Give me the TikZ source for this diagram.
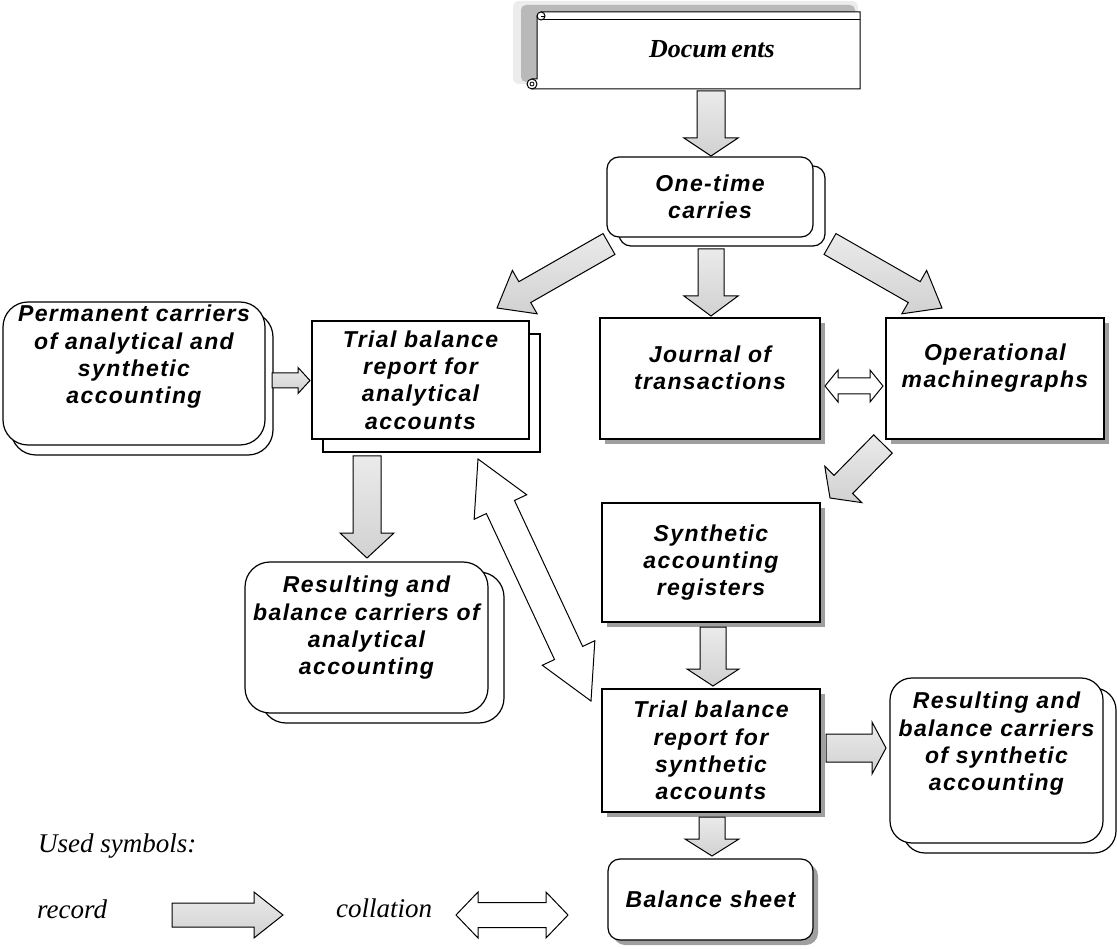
\documentclass[tikz,border=0pt]{standalone}
\usepackage{fontspec}
\usetikzlibrary{calc,shadows}
\newfontfamily\boxfont{Liberation Sans}[LetterSpace=6]
\newfontfamily\legfont{Liberation Serif}

\tikzset{
  boxtext/.style={font=\boxfont\bfseries\itshape\fontsize{23}{27.3}\selectfont, align=center, inner sep=0pt},
  outline/.style={draw=black, line width=1.2pt, fill=white},
  sqbox/.style={outline, inner sep=0pt, boxtext},
  rbox/.style={outline, rounded corners=#1, inner sep=0pt, boxtext},
  cshadow/.style 2 args={copy shadow={shadow xshift=#1, shadow yshift=#2, fill=white, draw=black, line width=1.2pt}},
  dshadow/.style={drop shadow={shadow xshift=5pt, shadow yshift=-5pt, fill=gray!75, opacity=1}},
  recfill/.style={draw=black, line width=1pt, line join=miter, top color=gray!16, bottom color=gray!36},
  colfill/.style={draw=black, line width=1pt, line join=miter, fill=white},
  legtext/.style={font=\legfont\itshape\fontsize{27}{31}\selectfont, inner sep=0pt, anchor=base west},
}

% block arrow: style, tail, tip, shaft half-width, head half-width, head length
\newcommand\blockarrow[6]{%
  \coordinate (hb) at ($(#3)!#6!(#2)$);
  \draw[#1] ($(#2)!#4!90:(#3)$) -- ($(hb)!#4!90:(#3)$) -- ($(hb)!#5!90:(#3)$) -- (#3)
    -- ($(hb)!#5!-90:(#3)$) -- ($(hb)!#4!-90:(#3)$) -- ($(#2)!#4!-90:(#3)$) -- cycle;
}
% two-headed block arrow, same arguments
\newcommand\twoarrow[6]{%
  \coordinate (ha) at ($(#2)!#6!(#3)$);
  \coordinate (hb) at ($(#3)!#6!(#2)$);
  \draw[#1] (#2) -- ($(ha)!#5!90:(#3)$) -- ($(ha)!#4!90:(#3)$) -- ($(hb)!#4!90:(#3)$)
    -- ($(hb)!#5!90:(#3)$) -- (#3) -- ($(hb)!#5!-90:(#3)$) -- ($(hb)!#4!-90:(#3)$)
    -- ($(ha)!#4!-90:(#3)$) -- ($(ha)!#5!-90:(#3)$) -- cycle;
}

\begin{document}
\begin{tikzpicture}[x=1pt, y=-1pt]
\useasboundingbox (0,0) rectangle (1117,949);

% ---- scroll with the source documents ----
\fill[gray!15, rounded corners=6] (513,1) rectangle (858,84);
\fill[gray!55, rounded corners=5] (521,5) rectangle (855,82);
\draw[outline, line width=1pt] (541,12) -- (860,12) -- (860,89) -- (532,89) -- (532,79) -- (537,79) -- (537,16) -- cycle;
\draw[line width=1pt] (541,20) -- (860,20);
\draw[outline, line width=1pt] (541,16) circle (4);
\draw[line width=0.8pt] (541,16) -- (545,16);
\draw[outline, line width=1pt] (532,84) circle (5);
\draw[line width=0.8pt] (532,84) circle (2);
\node[font=\legfont\bfseries\itshape\fontsize{26}{30}\selectfont, inner sep=0pt] (docs) at (712,49) {Docum\,ents};

% ---- boxes ----
\node[rbox=12, minimum width=206, minimum height=80, cshadow={12pt}{-9pt}] (onetime) at (710,197) {One-time\\carries};

\node[rbox=25, minimum width=262, minimum height=143, cshadow={8pt}{-10pt}] (perm) at (134,373.5) {};
\node[boxtext, anchor=north] (permtext) at (134,305) {Permanent carriers\\of analytical and\\synthetic\\accounting};

\node[sqbox, minimum width=217, minimum height=118, cshadow={11pt}{-13pt}] (trialan) at (420.5,380) {Trial balance\\report for\\analytical\\accounts};

\node[sqbox, minimum width=220, minimum height=121, dshadow] (journal) at (710,378.5) {};
\node[boxtext] (journaltext) at (710,368) {Journal of\\transactions};

\node[sqbox, minimum width=218, minimum height=121, dshadow] (oper) at (995,378.5) {};
\node[boxtext] (opertext) at (995,368) {Operational\\machinegraphs};

\node[sqbox, minimum width=218, minimum height=119, dshadow] (synreg) at (711,562.5) {Synthetic\\accounting\\registers};

\node[sqbox, minimum width=218, minimum height=123, dshadow] (trialsyn) at (711,750.5) {Trial balance\\report for\\synthetic\\accounts};

\node[rbox=25, minimum width=243, minimum height=151, cshadow={16pt}{-10pt}] (resan) at (366.5,637.5) {};
\node[boxtext, anchor=north] (resantext) at (366.5,576) {Resulting and\\balance carriers of\\analytical\\accounting};

\node[rbox=22, minimum width=213, minimum height=165, cshadow={13pt}{-10pt}] (ressyn) at (996.5,760.5) {};
\node[boxtext, anchor=north] (ressyntext) at (996.5,692) {Resulting and\\balance carriers\\of synthetic\\accounting};

\node[rbox=12, minimum width=205, minimum height=81, dshadow] (balance) at (710.5,899.5) {Balance sheet};

% ---- record arrows ----
\coordinate (docs-out) at (711,91);   \coordinate (onetime-in) at (711,156);
\blockarrow{recfill}{docs-out}{onetime-in}{14pt}{27pt}{18pt}

\coordinate (onetime-l) at (609,244); \coordinate (trialan-in) at (497,308);
\blockarrow{recfill}{onetime-l}{trialan-in}{12pt}{25pt}{32pt}

\coordinate (onetime-r) at (830,244); \coordinate (oper-in) at (942,308);
\blockarrow{recfill}{onetime-r}{oper-in}{12pt}{25pt}{32pt}

\coordinate (onetime-b) at (711,249); \coordinate (journal-in) at (711,316);
\blockarrow{recfill}{onetime-b}{journal-in}{13pt}{27pt}{20pt}

\coordinate (perm-out) at (272,380.5); \coordinate (trialan-l) at (310,380.5);
\blockarrow{recfill}{perm-out}{trialan-l}{7.5pt}{13pt}{12pt}

\coordinate (trialan-b) at (367,456); \coordinate (resan-in) at (367,558);
\blockarrow{recfill}{trialan-b}{resan-in}{14pt}{27pt}{25pt}

\coordinate (oper-out) at (883,444); \coordinate (synreg-in) at (830,498);
\blockarrow{recfill}{oper-out}{synreg-in}{13pt}{26pt}{19pt}

\coordinate (synreg-out) at (713,627); \coordinate (trialsyn-in) at (713,686);
\blockarrow{recfill}{synreg-out}{trialsyn-in}{13pt}{26pt}{17pt}

\coordinate (trialsyn-r) at (826,748); \coordinate (ressyn-in) at (886,748);
\blockarrow{recfill}{trialsyn-r}{ressyn-in}{14pt}{26pt}{14pt}

\coordinate (trialsyn-b) at (712,817); \coordinate (balance-in) at (712,856);
\blockarrow{recfill}{trialsyn-b}{balance-in}{13pt}{27pt}{17pt}

% ---- collation arrows ----
\coordinate (journal-r) at (825,386); \coordinate (oper-l) at (883,386);
\twoarrow{colfill}{journal-r}{oper-l}{8pt}{16pt}{13pt}

\coordinate (trialan-c) at (478,459); \coordinate (trialsyn-c) at (591,701);
\twoarrow{colfill}{trialan-c}{trialsyn-c}{15.5pt}{29pt}{53pt}

% ---- legend ----
\node[legtext] (legtitle) at (38,852) {Used symbols:};
\node[legtext] (legrec) at (37,918) {record};
\coordinate (rec-a) at (172,915); \coordinate (rec-b) at (283,915);
\blockarrow{recfill}{rec-a}{rec-b}{12pt}{23pt}{29pt}
\node[legtext] (legcol) at (336,917) {collation};
\coordinate (col-a) at (456,915); \coordinate (col-b) at (568,915);
\twoarrow{colfill}{col-a}{col-b}{12.5pt}{23pt}{22pt}
\end{tikzpicture}
\end{document}
